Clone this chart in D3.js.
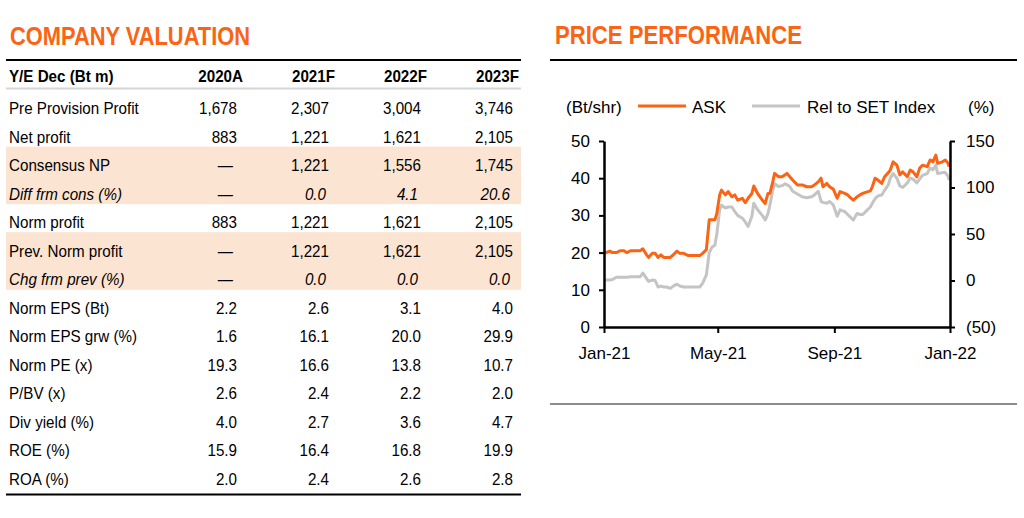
<!doctype html>
<html>
<head>
<meta charset="UTF-8">
<title>ASK valuation</title>
<script src="https://d3js.org/d3.v7.min.js"></script>
<style>
    body{ margin:0; background:#fff; }
    text{ font-family: "Liberation Sans", Arial, sans-serif; fill:#000; }
</style>
</head>
<body>
<svg id="chart" width="1024" height="518"></svg>
<script>
// ---------- company valuation table
var columns = ["2020A", "2021F", "2022F", "2023F"];
var rowLabels = ["Pre Provision Profit", "Net profit", "Consensus NP", "Diff frm cons (%)",
                 "Norm profit", "Prev. Norm profit", "Chg frm prev (%)", "Norm EPS (Bt)",
                 "Norm EPS grw (%)", "Norm PE (x)", "P/BV (x)", "Div yield (%)", "ROE (%)", "ROA (%)"];
var rowValues = [
    [1678, 2307, 3004, 3746],
    [883, 1221, 1621, 2105],
    [null, 1221, 1556, 1745],
    [null, 0.0, 4.1, 20.6],
    [883, 1221, 1621, 2105],
    [null, 1221, 1621, 2105],
    [null, 0.0, 0.0, 0.0],
    [2.2, 2.6, 3.1, 4.0],
    [1.6, 16.1, 20.0, 29.9],
    [19.3, 16.6, 13.8, 10.7],
    [2.6, 2.4, 2.2, 2.0],
    [4.0, 2.7, 3.6, 4.7],
    [15.9, 16.4, 16.8, 19.9],
    [2.0, 2.4, 2.6, 2.8]
];
var decimalRows = [3, 6, 7, 8, 9, 10, 11, 12, 13];
var italicRows = [3, 6];
var shadedRows = [2, 3, 5, 6];

// ---------- price performance
var dates = ["2021-01-01","2021-01-07","2021-01-10","2021-01-14","2021-01-18","2021-01-22","2021-01-25",
             "2021-01-29","2021-02-04","2021-02-08","2021-02-11","2021-02-15","2021-02-17","2021-02-21",
             "2021-02-24","2021-02-27","2021-03-02","2021-03-05","2021-03-08","2021-03-12","2021-03-15",
             "2021-03-19","2021-03-22","2021-03-26","2021-03-31","2021-04-04","2021-04-08","2021-04-12",
             "2021-04-15","2021-04-19","2021-04-22","2021-04-25","2021-04-28","2021-04-30","2021-05-03",
             "2021-05-05","2021-05-09","2021-05-12","2021-05-16","2021-05-19","2021-05-22","2021-05-27",
             "2021-05-30","2021-06-02","2021-06-06","2021-06-08","2021-06-12","2021-06-17","2021-06-20",
             "2021-06-23","2021-06-25","2021-06-28","2021-06-30","2021-07-04","2021-07-08","2021-07-11",
             "2021-07-13","2021-07-16","2021-07-19","2021-07-24","2021-07-29","2021-08-03","2021-08-08",
             "2021-08-11","2021-08-15","2021-08-18","2021-08-20","2021-08-24","2021-08-27","2021-08-31",
             "2021-09-04","2021-09-07","2021-09-12","2021-09-15","2021-09-17","2021-09-21","2021-09-25",
             "2021-09-28","2021-10-01","2021-10-04","2021-10-09","2021-10-11","2021-10-14","2021-10-17",
             "2021-10-21","2021-10-24","2021-10-28","2021-10-30","2021-11-02","2021-11-06","2021-11-09",
             "2021-11-12","2021-11-17","2021-11-20","2021-11-23","2021-11-27","2021-11-30","2021-12-03",
             "2021-12-08","2021-12-11","2021-12-14","2021-12-17","2021-12-19","2021-12-24","2021-12-27",
             "2021-12-30","2021-12-31"];
var askPrice = [19.8, 20.4, 20.0, 20.0, 20.5, 20.5, 20.0,
                20.5, 20.5, 20.5, 21.0, 19.4, 18.7, 19.8,
                19.8, 18.7, 19.4, 18.7, 18.7, 18.7, 19.4,
                20.4, 19.8, 19.8, 19.2, 19.2, 19.2, 19.2,
                19.8, 20.8, 28.8, 28.8, 28.8, 30.5, 35.5,
                36.8, 35.5, 36.4, 35.0, 35.5, 34.1, 34.6,
                33.4, 34.6, 35.9, 37.9, 35.9, 34.1, 33.2,
                35.9, 35.9, 39.0, 41.3, 40.4, 40.4, 40.9,
                41.3, 40.4, 39.5, 38.2, 38.2, 37.7, 37.7,
                38.2, 39.0, 40.0, 37.7, 38.6, 37.7, 37.0,
                34.6, 36.4, 35.9, 35.5, 35.0, 34.1, 35.0,
                35.5, 35.9, 36.2, 36.6, 37.7, 40.0, 39.5,
                38.6, 40.4, 41.5, 42.2, 44.4, 43.5, 40.9,
                41.7, 40.4, 42.2, 41.7, 40.4, 42.7, 43.5,
                43.1, 44.9, 44.4, 46.2, 44.0, 44.4, 44.9,
                44.0, 43.1];
var relSet = [0.5, 0.5, 1, 3.5, 3.5, 3.5, 3.5,
              4, 4, 4, 8, 2, -1, 0.5,
              0, -7, -6, -7, -7, -8.5, -6,
              -4, -6, -7, -7, -7, -7, -7,
              -3, 6, 30, 36, 38, 50, 76,
              81, 78, 79, 79, 74, 70, 67,
              63, 58, 69, 83, 76, 70, 65,
              72, 81, 97, 104, 101, 102, 104,
              103, 101, 96, 93, 90, 89, 90,
              92, 96, 85, 84, 83, 85, 81,
              69, 76, 74, 71, 69, 65, 72,
              71, 71, 74, 79, 83, 88, 91,
              92, 97, 103, 110, 115, 110, 102,
              100, 105, 110, 109, 105, 109, 113,
              115, 121, 119, 124, 115, 116, 116,
              112, 108];
var leftTicks = [0, 10, 20, 30, 40, 50];
var rightTicks = [-50, 0, 50, 100, 150];
var xTicks = ["2021-01-01", "2021-05-01", "2021-09-01", "2022-01-01"];

var orange = "#fb6414";
var grey = "#c4c4c4";
var peach = "#fce4d2";

var svg = d3.select("#chart");

// ---------- titles
svg.append("text").attr("x", 10).attr("y", 45)
   .attr("font-size", 25).attr("font-weight", "bold").style("fill", orange)
   .attr("textLength", 240).attr("lengthAdjust", "spacingAndGlyphs")
   .text("COMPANY VALUATION");
svg.append("text").attr("x", 555).attr("y", 44)
   .attr("font-size", 25).attr("font-weight", "bold").style("fill", orange)
   .attr("textLength", 247).attr("lengthAdjust", "spacingAndGlyphs")
   .text("PRICE PERFORMANCE");

// ---------- table
var tbl = svg.append("g");
var rowY = d3.scaleBand().domain(d3.range(rowLabels.length)).range([89.5, 89.5 + 28.54 * rowLabels.length]);
var colX = d3.scalePoint().domain(columns).range([237, 513]);
var fmtInt = d3.format(",");
var fmtDec = d3.format(".1f");
var fs = 16.5, squeeze = 0.92;   // table text is a little narrow

function at(x, y){ return "translate(" + x + "," + y + ") scale(" + squeeze + ",1)"; }

tbl.selectAll("rect.band")
   .data(shadedRows)
   .enter().append("rect")
   .attr("x", 6).attr("width", 515)
   .attr("y", function(d){ return rowY(d); })
   .attr("height", rowY.bandwidth() + 0.5)
   .attr("fill", peach);

tbl.append("line").attr("x1", 6).attr("x2", 521).attr("y1", 60).attr("y2", 60)
   .attr("stroke", "#000").attr("stroke-width", 2);
tbl.append("line").attr("x1", 6).attr("x2", 521).attr("y1", 88.5).attr("y2", 88.5)
   .attr("stroke", "#d6d6d6").attr("stroke-width", 2);
tbl.append("line").attr("x1", 6).attr("x2", 521).attr("y1", 494.5).attr("y2", 494.5)
   .attr("stroke", "#000").attr("stroke-width", 2);

// header
tbl.append("text").attr("transform", at(9, 82))
   .attr("font-size", fs).attr("font-weight", "bold").text("Y/E Dec (Bt m)");
tbl.selectAll("text.col")
   .data(columns)
   .enter().append("text")
   .attr("class", "col")
   .attr("transform", function(d){ return at(colX(d) + 6, 82); })
   .attr("text-anchor", "end")
   .attr("font-size", fs).attr("font-weight", "bold")
   .text(function(d){ return d; });

// rows
var rows = tbl.selectAll("g.row")
   .data(rowLabels)
   .enter().append("g")
   .attr("class", "row")
   .attr("transform", function(d, i){ return "translate(0," + (rowY(i) + 24.5) + ")"; });

rows.append("text")
   .attr("transform", at(9, 0))
   .attr("font-size", fs)
   .attr("font-style", function(d, i){ return italicRows.indexOf(i) >= 0 ? "italic" : "normal"; })
   .text(function(d){ return d; });

rows.each(function(label, i){
    var italic = italicRows.indexOf(i) >= 0;
    var fmt = decimalRows.indexOf(i) >= 0 ? fmtDec : fmtInt;
    d3.select(this).selectAll("text.val")
      .data(rowValues[i])
      .enter().append("text")
      .attr("class", "val")
      .attr("transform", function(d, j){
          var cx = colX(columns[j]);
          if (d === null) cx -= 4;
          else if (italic) cx -= 3;
          return at(cx, 0);
      })
      .attr("text-anchor", "end")
      .attr("font-size", fs)
      .attr("font-style", italic ? "italic" : "normal")
      .text(function(d){ return d === null ? "\u2014" : fmt(d); });
});

// rules of chart panel
svg.append("line").attr("x1", 550).attr("x2", 1017).attr("y1", 60).attr("y2", 60)
   .attr("stroke", "#000").attr("stroke-width", 2);
svg.append("line").attr("x1", 550).attr("x2", 1017).attr("y1", 404).attr("y2", 404)
   .attr("stroke", "#8c8c8c").attr("stroke-width", 2);

// ---------- chart
var parse = d3.timeParse("%Y-%m-%d");
var x = d3.scaleTime().domain([parse("2021-01-01"), parse("2022-01-01")]).range([604, 950]);
var yL = d3.scaleLinear().domain([0, 50]).range([327, 141]);
var yR = d3.scaleLinear().domain([-50, 150]).range([327, 141]);

var ask = dates.map(function(d, i){ return {date: parse(d), v: askPrice[i]}; });
var rel = dates.map(function(d, i){ return {date: parse(d), v: relSet[i]}; });

var chart = svg.append("g");

chart.append("path").datum(rel)
   .attr("fill", "none").attr("stroke", grey).attr("stroke-width", 3)
   .attr("stroke-linejoin", "round")
   .attr("d", d3.line().x(function(d){ return x(d.date); }).y(function(d){ return yR(d.v); }));
chart.append("path").datum(ask)
   .attr("fill", "none").attr("stroke", orange).attr("stroke-width", 3)
   .attr("stroke-linejoin", "round")
   .attr("d", d3.line().x(function(d){ return x(d.date); }).y(function(d){ return yL(d.v); }));

function styleAxis(g){
    g.attr("font-family", "Liberation Sans, Arial, sans-serif").attr("font-size", 17);
    g.select(".domain").attr("stroke", "#000").attr("stroke-width", 2.5);
    g.selectAll(".tick line").attr("stroke", "#000").attr("stroke-width", 2);
    g.selectAll(".tick text").style("fill", "#000");
}

chart.append("g").attr("transform", "translate(0,327)")
   .call(d3.axisBottom(x).tickValues(xTicks.map(parse)).tickFormat(d3.timeFormat("%b-%y"))
         .tickSize(6).tickPadding(14).tickSizeOuter(0))
   .call(styleAxis);
chart.append("g").attr("transform", "translate(604,0)")
   .call(d3.axisLeft(yL).tickValues(leftTicks).tickSize(5).tickPadding(9).tickSizeOuter(0))
   .call(styleAxis);
chart.append("g").attr("transform", "translate(950,0)")
   .call(d3.axisRight(yR).tickValues(rightTicks).tickSize(5).tickPadding(11).tickSizeOuter(0)
         .tickFormat(function(d){ return d < 0 ? "(" + (-d) + ")" : d; }))
   .call(styleAxis);

// legend
var lg = svg.append("g").attr("font-size", 17);
lg.append("text").attr("x", 566).attr("y", 113).text("(Bt/shr)");
lg.append("line").attr("x1", 638).attr("x2", 686).attr("y1", 106).attr("y2", 106)
  .attr("stroke", orange).attr("stroke-width", 3);
lg.append("text").attr("x", 692).attr("y", 113).text("ASK");
lg.append("line").attr("x1", 752).attr("x2", 800).attr("y1", 106).attr("y2", 106)
  .attr("stroke", grey).attr("stroke-width", 3);
lg.append("text").attr("x", 807).attr("y", 113).text("Rel to SET Index");
lg.append("text").attr("x", 968).attr("y", 113).text("(%)");
</script>
</body>
</html>
